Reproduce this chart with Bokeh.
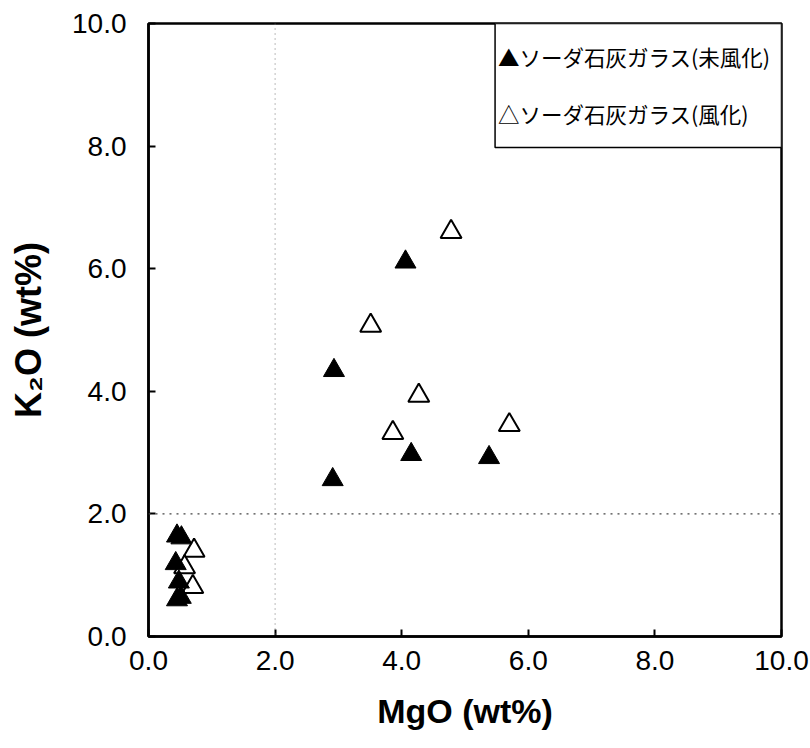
from bokeh.plotting import figure
from bokeh.models import Span, BoxAnnotation, Label, FixedTicker, NumeralTickFormatter
from bokeh.embed import file_html
from bokeh.resources import INLINE

# MgO / K2O contents (wt%) of soda-lime glass
unweathered_mgo = [0.45, 0.52, 0.43, 0.48, 0.45, 0.51, 2.93, 2.91, 4.06, 4.15, 5.38]
unweathered_k2o = [1.64, 1.61, 1.19, 0.89, 0.60, 0.64, 4.34, 2.56, 6.11, 2.97, 2.92]

weathered_mgo = [0.72, 0.57, 0.70, 4.78, 3.51, 4.27, 3.86, 5.70]
weathered_k2o = [1.40, 1.13, 0.81, 6.60, 5.07, 3.93, 3.32, 3.45]

ticks = [0, 2, 4, 6, 8, 10]
legend_labels = ["▲ソーダ石灰ガラス(未風化)", "△ソーダ石灰ガラス(風化)"]

TICK_FONT = "Liberation Sans"
JP_FONT = "Noto Sans CJK JP"

p = figure(width=810, height=748, x_range=(0, 10), y_range=(0, 10),
           output_backend="svg", toolbar_location=None,
           min_border_left=148, min_border_right=29,
           min_border_top=23, min_border_bottom=112)

p.background_fill_color = "white"
p.border_fill_color = "white"
p.outline_line_color = "black"
p.outline_line_width = 2.5
p.xgrid.grid_line_color = None
p.ygrid.grid_line_color = None

for ax in (p.xaxis[0], p.yaxis[0]):
    ax.ticker = FixedTicker(ticks=ticks)
    ax.formatter = NumeralTickFormatter(format="0.0")
    ax.major_tick_in = 7
    ax.major_tick_out = 0
    ax.major_tick_line_width = 2
    ax.minor_tick_line_color = None
    ax.axis_line_width = 2.5
    ax.axis_line_color = "black"
    ax.major_label_text_font = TICK_FONT
    ax.major_label_text_font_size = "28px"
    ax.major_label_text_color = "black"
    ax.axis_label_text_font = TICK_FONT
    ax.axis_label_text_font_style = "bold"
    ax.axis_label_text_color = "black"

p.xaxis.major_label_standoff = 14
p.yaxis.major_label_standoff = 22
p.xaxis.axis_label = "MgO (wt%)"
p.yaxis.axis_label = "K₂O (wt%)"
p.xaxis.axis_label_text_font_size = "34px"
p.yaxis.axis_label_text_font_size = "36px"
p.xaxis.axis_label_standoff = 19
p.yaxis.axis_label_standoff = 20

# dotted reference lines at 2 wt%
p.add_layout(Span(location=2, dimension="height", line_color="#777777",
                  line_width=1, line_dash="1 4"))
p.add_layout(Span(location=2, dimension="width", line_color="#444444",
                  line_width=1.2, line_dash="2 5"))

p.scatter(weathered_mgo, weathered_k2o, marker="triangle", size=21,
          fill_color="white", line_color="black", line_width=2)
p.scatter(unweathered_mgo, unweathered_k2o, marker="triangle", size=21,
          fill_color="black", line_color="black", line_width=1)

# legend box in the upper-right corner
p.add_layout(BoxAnnotation(left=5.475, right=10, bottom=7.977, top=10,
                           fill_color="white", fill_alpha=1.0,
                           line_color="black", line_width=1.5, line_alpha=1.0))
for lbl, yy in zip(legend_labels, [9.46, 8.53]):
    p.add_layout(Label(x=5.52, y=yy, text=lbl, text_font=JP_FONT,
                       text_font_size="21.5px", text_baseline="middle",
                       text_color="black"))

open("out.html", "w").write(file_html(p, INLINE))
